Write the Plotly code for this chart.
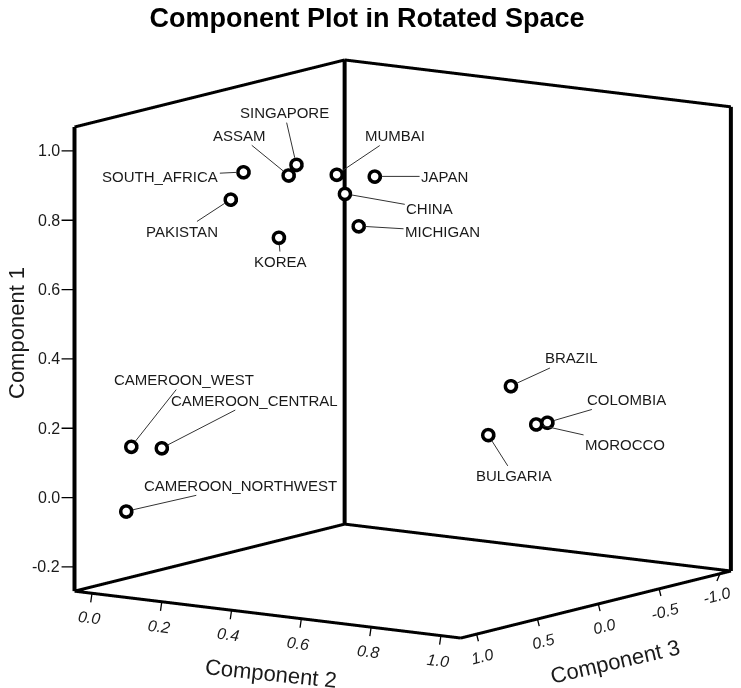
import plotly.graph_objects as go

# ---- data (rotated component loadings) ----
labels = ["SOUTH_AFRICA", "PAKISTAN", "KOREA", "ASSAM", "SINGAPORE", "MUMBAI",
          "CHINA", "JAPAN", "MICHIGAN", "BRAZIL", "COLOMBIA", "MOROCCO",
          "BULGARIA", "CAMEROON_WEST", "CAMEROON_CENTRAL", "CAMEROON_NORTHWEST"]
comp1 = [0.871, 0.794, 0.688, 0.871, 0.898, 0.877, 0.818, 0.872, 0.723,
         0.341, 0.255, 0.246, 0.205, 0.137, 0.137, -0.045]
comp2 = [0.092, 0.073, 0.176, 0.204, 0.209, 0.307, 0.313, 0.381, 0.335,
         0.841, 0.963, 0.931, 0.811, 0.032, 0.102, 0.035]
comp3 = [0.15, 0.20, 0.10, 0.10, 0.05, 0.00, -0.05, -0.10, -0.10,
         0.10, 0.15, 0.15, 0.20, 0.90, 0.85, 0.95]

# label offsets (pixels) for the leader lines
label_dx = [-83, -49, 2, -49, -12, 58, 85, 70, 84, 61, 79, 89, 26, 53, 93, 114]
label_dy = [4, 32, 24, -40, -52, -39, 15, 0, 5, -28, -23, 20, 41, -67, -48, -26]

c1_ticks = [-0.2, 0.0, 0.2, 0.4, 0.6, 0.8, 1.0]
c2_ticks = [0.0, 0.2, 0.4, 0.6, 0.8, 1.0]
c3_ticks = [-1.0, -0.5, 0.0, 0.5, 1.0]

c1_box = [-0.27, 1.069]
c2_box = [-0.05, 1.057]
c3_box = [-1.09, 1.13]

FONT = "Arial, Liberation Sans, sans-serif"
TXT = "#1a1a1a"
ASPECT = 1.4
EYE_DIR = (0.807, 0.5644, 0.1736)
SCREEN_RIGHT = (-0.5731, 0.8195, 0.0)
SHIFT = -0.0717   # move the view centre left so the box sits right of centre


def padded(r, f=0.002):
    s = (r[1] - r[0]) * f
    return [r[0] - s, r[1] + s]


# ---- box edges (back walls + floor) from the box extents ----
x0, x1 = c3_box
y0, y1 = c2_box
z0, z1 = c1_box
vertical_edges = [
    ((x0, y0, z0), (x0, y0, z1)),
    ((x1, y0, z0), (x1, y0, z1)),
    ((x0, y1, z0), (x0, y1, z1)),
]
other_edges = [
    ((x0, y0, z1), (x1, y0, z1)),
    ((x0, y0, z1), (x0, y1, z1)),
    ((x0, y0, z0), (x1, y0, z0)),
    ((x0, y0, z0), (x0, y1, z0)),
    ((x1, y0, z0), (x1, y1, z0)),
    ((x0, y1, z0), (x1, y1, z0)),
]

fig = go.Figure()
for group, w in ((other_edges, 6), (vertical_edges, 8)):
    for a, b in group:
        fig.add_trace(go.Scatter3d(x=[a[0], b[0]], y=[a[1], b[1]], z=[a[2], b[2]],
                                   mode="lines", line=dict(color="black", width=w),
                                   hoverinfo="skip", showlegend=False))

# ring markers: black disc with a white disc just in front of it (toward camera)
eps = 0.01
sx = (x1 - x0) / ASPECT * EYE_DIR[0] * eps
sy = (y1 - y0) / ASPECT * EYE_DIR[1] * eps
sz = (z1 - z0) / ASPECT * EYE_DIR[2] * eps
fig.add_trace(go.Scatter3d(x=comp3, y=comp2, z=comp1, mode="markers",
                           marker=dict(symbol="circle", size=8.5, color="black",
                                       line=dict(width=0)),
                           text=labels, hoverinfo="text", showlegend=False))
fig.add_trace(go.Scatter3d(x=[v + sx for v in comp3], y=[v + sy for v in comp2],
                           z=[v + sz for v in comp1], mode="markers",
                           marker=dict(symbol="circle", size=4.4, color="white",
                                       line=dict(width=0)),
                           hoverinfo="skip", showlegend=False))

annots = []
# point labels with leader lines
for lab, a, b, c, dx, dy in zip(labels, comp3, comp2, comp1, label_dx, label_dy):
    annots.append(dict(x=a, y=b, z=c, text=lab, showarrow=True, arrowhead=0,
                       arrowwidth=1, arrowcolor="#333333", ax=dx, ay=dy,
                       standoff=7,
                       font=dict(family=FONT, size=15, color=TXT)))

# tick marks + tick labels on the three front edges
for v in c1_ticks:
    annots.append(dict(x=x1, y=y0, z=v, text=f"{v:.1f}", showarrow=True, arrowhead=0,
                       arrowwidth=1.3, arrowcolor="black", ax=-13, ay=0,
                       xanchor="right", yanchor="middle", standoff=0,
                       font=dict(family=FONT, size=16, color=TXT)))
for v in c2_ticks:
    annots.append(dict(x=x1, y=v, z=z0, text=f"<i>{v:.1f}</i>", showarrow=True,
                       arrowhead=0, arrowwidth=1.3, arrowcolor="black",
                       ax=-2, ay=14, startstandoff=5, standoff=0,
                       xanchor="center", yanchor="top", textangle=7,
                       font=dict(family=FONT, size=16, color=TXT)))
for v in c3_ticks:
    annots.append(dict(x=v, y=y1, z=z0, text=f"<i>{v:.1f}</i>", showarrow=True,
                       arrowhead=0, arrowwidth=1.3, arrowcolor="black",
                       ax=3 if v > x0 + 0.2 else -5, ay=12, startstandoff=5, standoff=0,
                       xanchor="center", yanchor="top", textangle=-14,
                       font=dict(family=FONT, size=16, color=TXT)))

axis_common = dict(showgrid=False, zeroline=False, showbackground=False,
                   showspikes=False, showline=False, ticks="",
                   showticklabels=False, title=dict(text=""))

cx = SHIFT * SCREEN_RIGHT[0]
cy = SHIFT * SCREEN_RIGHT[1]
cz = 0.0

fig.update_layout(
    width=741, height=688,
    margin=dict(l=0, r=0, t=0, b=0),
    paper_bgcolor="white",
    title=dict(text="<b>Component Plot in Rotated Space</b>", x=359/741, xanchor="center",
               y=1.0, yanchor="top", pad=dict(t=0, b=0),
               font=dict(family=FONT, size=27, color="black")),
    scene=dict(
        domain=dict(x=[0.0, 1.0], y=[1-679/688, 1-3/688]),
        xaxis=dict(range=padded(c3_box), tickvals=c3_ticks, **axis_common),
        yaxis=dict(range=padded(c2_box), tickvals=c2_ticks, **axis_common),
        zaxis=dict(range=padded(c1_box), tickvals=c1_ticks, **axis_common),
        aspectmode="manual", aspectratio=dict(x=ASPECT, y=ASPECT, z=ASPECT),
        camera=dict(eye=dict(x=EYE_DIR[0]*2 + cx, y=EYE_DIR[1]*2 + cy, z=EYE_DIR[2]*2 + cz),
                    center=dict(x=cx, y=cy, z=cz), up=dict(x=0, y=0, z=1),
                    projection=dict(type="orthographic")),
        annotations=annots,
    ),
    annotations=[
        dict(text="Component 1", x=8/741, y=1-325/688, xref="paper", yref="paper",
             xanchor="center", yanchor="middle",
             showarrow=False, textangle=-90,
             font=dict(family=FONT, size=22, color=TXT)),
        dict(text="Component 2", x=263/741, y=1-665/688, xref="paper", yref="paper",
             xanchor="center", yanchor="middle",
             showarrow=False, textangle=6,
             font=dict(family=FONT, size=22, color=TXT)),
        dict(text="Component 3", x=607/741, y=1-653/688, xref="paper", yref="paper",
             xanchor="center", yanchor="middle",
             showarrow=False, textangle=-13,
             font=dict(family=FONT, size=22, color=TXT)),
    ],
)

fig.write_html("out.html", config=dict(displayModeBar=False))
